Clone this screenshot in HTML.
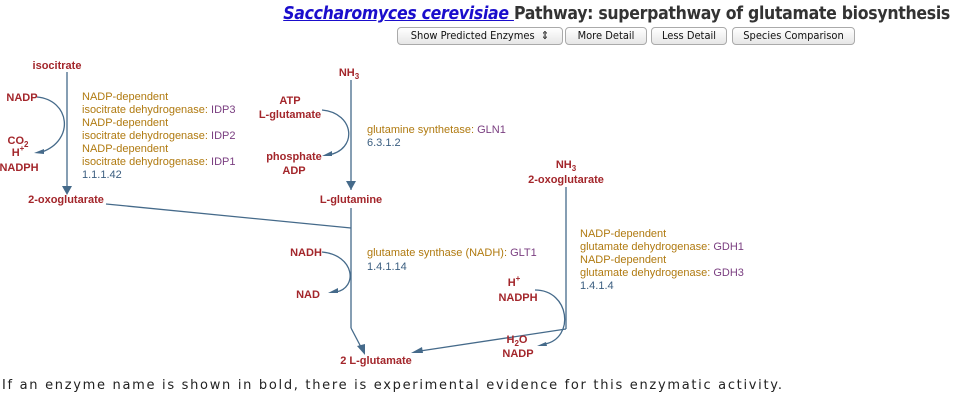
<!DOCTYPE html>
<html><head><meta charset="utf-8"><style>
html,body{margin:0;padding:0;background:#fff;width:980px;height:404px;overflow:hidden;font-family:"Liberation Sans",sans-serif}
.title{position:absolute;left:0;width:950px;top:4px;text-align:right;font-size:17.5px;font-weight:bold;color:#333;white-space:nowrap;font-family:"DejaVu Sans Condensed","DejaVu Sans",sans-serif;letter-spacing:-0.3px}
.title a{color:#1a0dcc;font-style:italic;text-decoration:underline}
.btn{position:absolute;top:27px;height:16px;border:1px solid #aaa;border-radius:4px;background:linear-gradient(#fff,#e6e6e6);font-size:11px;line-height:16px;text-align:center;color:#111;font-family:"DejaVu Sans Condensed","Liberation Sans",sans-serif}
.foot{position:absolute;left:2px;top:378px;font-size:13px;letter-spacing:1.7px;color:#222;font-family:"DejaVu Sans",sans-serif;white-space:nowrap}
svg{position:absolute;left:0;top:0}
.m{fill:#a3262b;font-weight:bold;font-size:11px;text-anchor:middle}
.e{fill:#b07a10;font-size:11px}
.g{fill:#7a3e80}
.n{fill:#3b5e80;font-size:11px}
</style></head><body>
<div class="title"><a>Saccharomyces cerevisiae </a> Pathway: superpathway of glutamate biosynthesis</div>
<div class="btn" style="left:397px;width:164px">Show Predicted Enzymes &nbsp;⇕</div>
<div class="btn" style="left:565px;width:80px">More Detail</div>
<div class="btn" style="left:651px;width:74px">Less Detail</div>
<div class="btn" style="left:732px;width:121px">Species Comparison</div>
<svg width="980" height="404" viewBox="0 0 980 404">
<g stroke="#456a8a" stroke-width="1.3" fill="none">
<line x1="67" y1="72" x2="67" y2="186"/>
<path d="M37 97 C70 100,75 140,42 152"/>
<line x1="106" y1="204" x2="351" y2="228"/>
<line x1="351" y1="80" x2="351" y2="190"/>
<path d="M322 110 C355 113,358 150,328 155"/>
<line x1="351" y1="208" x2="351" y2="328"/>
<line x1="351" y1="328" x2="362" y2="349"/>
<path d="M322 252 C355 255,358 288,336 292"/>
<line x1="566" y1="187" x2="566" y2="329"/>
<line x1="566" y1="329" x2="420" y2="351"/>
<path d="M535 290 C570 290,575 338,545 344"/>
</g>
<g fill="#456a8a">
<polygon points="62,186 72,186 67,195"/>
<polygon points="34,153 44,149 44,154"/>
<polygon points="346,181 356,181 351,190"/>
<polygon points="322,156 332,151 332,156"/>
<polygon points="357,346 365,344 365,355"/>
<polygon points="328,293 338,288 338,293"/>
<polygon points="411,353 422,347 423,353"/>
<polygon points="537,346 546,342 547,346"/>
</g>
<text class="m" x="57" y="69">isocitrate</text>
<text class="m" x="22" y="101">NADP</text>
<text class="m" x="18" y="144">CO<tspan font-size="8" dy="3">2</tspan></text>
<text class="m" x="18" y="156">H<tspan font-size="8" dy="-5">+</tspan></text>
<text class="m" x="19" y="171">NADPH</text>
<text class="m" x="66" y="203">2-oxoglutarate</text>
<text class="e" x="82" y="100">NADP-dependent</text>
<text class="e" x="82" y="113">isocitrate dehydrogenase: <tspan class="g">IDP3</tspan></text>
<text class="e" x="82" y="126">NADP-dependent</text>
<text class="e" x="82" y="139">isocitrate dehydrogenase: <tspan class="g">IDP2</tspan></text>
<text class="e" x="82" y="152">NADP-dependent</text>
<text class="e" x="82" y="165">isocitrate dehydrogenase: <tspan class="g">IDP1</tspan></text>
<text class="n" x="82" y="178">1.1.1.42</text>
<text class="m" x="349" y="76">NH<tspan font-size="8" dy="3">3</tspan></text>
<text class="m" x="290" y="104">ATP</text>
<text class="m" x="290" y="118">L-glutamate</text>
<text class="m" x="294" y="160">phosphate</text>
<text class="m" x="294" y="174">ADP</text>
<text class="e" x="367" y="133">glutamine synthetase: <tspan class="g">GLN1</tspan></text>
<text class="n" x="367" y="146">6.3.1.2</text>
<text class="m" x="351" y="203">L-glutamine</text>
<text class="m" x="306" y="256">NADH</text>
<text class="m" x="308" y="298">NAD</text>
<text class="e" x="367" y="256">glutamate synthase (NADH): <tspan class="g">GLT1</tspan></text>
<text class="n" x="367" y="270">1.4.1.14</text>
<text class="m" x="376" y="364">2 L-glutamate</text>
<text class="m" x="566" y="168">NH<tspan font-size="8" dy="3">3</tspan></text>
<text class="m" x="566" y="183">2-oxoglutarate</text>
<text class="e" x="580" y="237">NADP-dependent</text>
<text class="e" x="580" y="250">glutamate dehydrogenase: <tspan class="g">GDH1</tspan></text>
<text class="e" x="580" y="263">NADP-dependent</text>
<text class="e" x="580" y="276">glutamate dehydrogenase: <tspan class="g">GDH3</tspan></text>
<text class="n" x="580" y="289">1.4.1.4</text>
<text class="m" x="514" y="286">H<tspan font-size="8" dy="-5">+</tspan></text>
<text class="m" x="518" y="301">NADPH</text>
<text class="m" x="517" y="343">H<tspan font-size="8" dy="3">2</tspan><tspan dy="-3">O</tspan></text>
<text class="m" x="518" y="357">NADP</text>
</svg>
<div class="foot">If an enzyme name is shown in bold, there is experimental evidence for this enzymatic activity.</div>
</body></html>
